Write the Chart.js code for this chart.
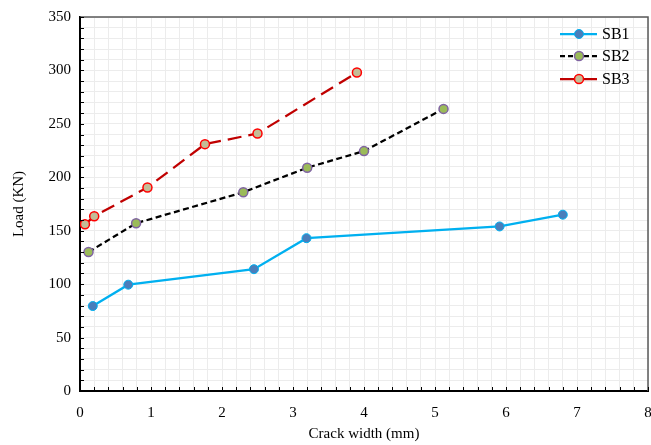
<!DOCTYPE html>
<html>
<head>
<meta charset="utf-8">
<script src="https://cdn.jsdelivr.net/npm/chart.js@4.4.1/dist/chart.umd.min.js"></script>
<style>
  html, body { margin: 0; padding: 0; background: #fff; }
  #wrap { width: 651px; height: 445px; }
</style>
</head>
<body>
<div id="wrap"><canvas id="chart" width="651" height="445"></canvas></div>
<script>
// crack width (mm) and load (KN) for each beam
const sb1Width = [0.18, 0.68, 2.45, 3.19, 5.91, 6.8];
const sb1Load  = [79.5, 99.5, 114, 143, 154, 165];
const sb2Width = [0.12, 0.79, 2.3, 3.2, 4.0, 5.12];
const sb2Load  = [130, 157, 186, 209, 224.5, 264];
const sb3Width = [0.07, 0.2, 0.95, 1.76, 2.5, 3.9];
const sb3Load  = [156, 163.5, 190.5, 231, 241, 298];
const seriesNames = ['SB1', 'SB2', 'SB3'];

const serif = "'Liberation Serif', 'Times New Roman', serif";

function toPoints(xs, ys) {
    return xs.map((x, i) => ({ x: x, y: ys[i] }));
}

const styles = [
    { line: '#00b0f0', dash: [], legendDash: [], fill: '#4a7ebb', edge: '#00b0f0', edgeW: 1 },
    { line: '#000000', dash: [6, 3.5], legendDash: [5, 3], fill: '#9bbb59', edge: '#8064a2', edgeW: 1.5 },
    { line: '#c00000', dash: [14, 7], legendDash: [], fill: '#c4bd97', edge: '#ff0000', edgeW: 1.5 }
];

const seriesData = [
    toPoints(sb1Width, sb1Load),
    toPoints(sb2Width, sb2Load),
    toPoints(sb3Width, sb3Load)
];

// inner tick marks, top/right frame and the legend inside the plot
const framePlugin = {
    id: 'frame',
    afterDraw(chart) {
        const ctx = chart.ctx;
        const a = chart.chartArea;
        const xs = chart.scales.x, ys = chart.scales.y;
        ctx.save();
        // top and right border
        ctx.strokeStyle = '#595959';
        ctx.lineWidth = 1.5;
        ctx.beginPath();
        ctx.moveTo(a.left, a.top);
        ctx.lineTo(a.right, a.top);
        ctx.lineTo(a.right, a.bottom);
        ctx.stroke();
        // ticks pointing inward
        ctx.strokeStyle = '#000';
        ctx.lineWidth = 1;
        ctx.beginPath();
        for (let v = 0; v <= 350; v += 10) {
            const py = Math.round(ys.getPixelForValue(v)) + 0.5;
            ctx.moveTo(a.left, py);
            ctx.lineTo(a.left + 4, py);
        }
        for (let i = 0; i <= 40; i++) {
            const px = Math.round(xs.getPixelForValue(i * 0.2)) + 0.5;
            ctx.moveTo(px, a.bottom);
            ctx.lineTo(px, a.bottom - 4);
        }
        ctx.stroke();
        // legend
        const lx = 560, tx = 602;
        const rows = [34, 56, 79];
        chart.data.datasets.forEach((ds, i) => {
            const st = styles[i];
            const y = rows[i];
            ctx.strokeStyle = st.line;
            ctx.lineWidth = 2.25;
            ctx.setLineDash(st.legendDash);
            ctx.beginPath();
            ctx.moveTo(lx, y);
            ctx.lineTo(lx + 37, y);
            ctx.stroke();
            ctx.setLineDash([]);
            ctx.beginPath();
            ctx.arc(lx + 19, y, 4.5, 0, Math.PI * 2);
            ctx.fillStyle = st.fill;
            ctx.fill();
            ctx.strokeStyle = st.edge;
            ctx.lineWidth = st.edgeW;
            ctx.stroke();
            ctx.fillStyle = '#000';
            ctx.font = '16px ' + serif;
            ctx.textBaseline = 'middle';
            ctx.textAlign = 'left';
            ctx.fillText(ds.label, tx, y + 1);
        });
        ctx.restore();
    }
};

new Chart(document.getElementById('chart').getContext('2d'), {
    type: 'line',
    data: {
        datasets: seriesData.map((pts, i) => ({
            label: seriesNames[i],
            data: pts,
            borderColor: styles[i].line,
            borderWidth: 2.25,
            borderDash: styles[i].dash,
            pointRadius: 4.5,
            pointBackgroundColor: styles[i].fill,
            pointBorderColor: styles[i].edge,
            pointBorderWidth: styles[i].edgeW,
            tension: 0,
            fill: false
        }))
    },
    options: {
        responsive: false,
        animation: false,
        events: [],
        layout: { autoPadding: false, padding: { left: 0, top: 17, right: 3, bottom: 0 } },
        plugins: {
            legend: { display: false },
            tooltip: { enabled: false }
        },
        scales: {
            x: {
                type: 'linear',
                min: 0,
                max: 8,
                afterFit: s => { s.height = 54; s.paddingLeft = 0; s.paddingRight = 0; },
                ticks: {
                    stepSize: 0.2,
                    autoSkip: false,
                    maxRotation: 0,
                    padding: 13,
                    color: '#000',
                    font: { family: serif, size: 15 },
                    callback: v => Math.abs(v - Math.round(v)) < 1e-6 ? Math.round(v) : ''
                },
                grid: { color: '#ececec', lineWidth: 1, drawTicks: false },
                border: { color: '#000', width: 2 },
                title: {
                    display: true,
                    text: 'Crack width (mm)',
                    color: '#000',
                    font: { family: serif, size: 15 },
                    padding: { top: 0, bottom: 2 }
                }
            },
            y: {
                min: 0,
                max: 350,
                afterFit: s => { s.width = 80; s.paddingTop = 0; s.paddingBottom = 0; },
                ticks: {
                    stepSize: 10,
                    autoSkip: false,
                    padding: 9,
                    color: '#000',
                    font: { family: serif, size: 15 },
                    callback: v => v % 50 === 0 ? v : ''
                },
                grid: { color: '#ececec', lineWidth: 1, drawTicks: false },
                border: { color: '#000', width: 2 },
                title: {
                    display: true,
                    text: 'Load (KN)',
                    color: '#000',
                    font: { family: serif, size: 15 },
                    padding: { top: 10, bottom: 0 }
                }
            }
        }
    },
    plugins: [framePlugin]
});
</script>
</body>
</html>
